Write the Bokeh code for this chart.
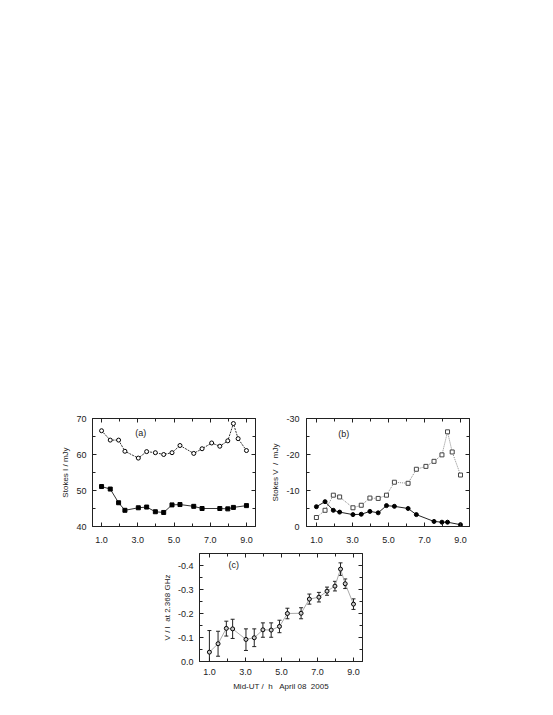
from bokeh.plotting import figure
from bokeh.models import (Range1d, LinearAxis, FixedTicker, CustomJSTickFormatter,
                          Label, Whisker, TeeHead, ColumnDataSource, Spacer)
from bokeh.layouts import column, row
from bokeh.embed import file_html
from bokeh.resources import INLINE

# ---------------- data ----------------
t_all = [1.0, 1.48, 1.94, 2.29, 3.03, 3.49, 3.97, 4.43, 4.89, 5.33, 6.09, 6.55,
         7.08, 7.53, 7.97, 8.28, 8.54, 9.0]
t_sub = [1.0, 1.48, 1.94, 2.29, 3.03, 3.49, 3.97, 4.43, 4.89, 5.33, 6.09, 6.55,
         7.53, 7.97, 8.28, 9.0]

# (a) Stokes I
stokes_i_open = [66.6, 64.0, 64.0, 60.9, 59.0, 60.8, 60.5, 60.0, 60.5, 62.5, 60.3, 61.6,
                 63.2, 62.3, 63.8, 68.6, 64.4, 61.1]
stokes_i_filled = [51.1, 50.4, 46.6, 44.5, 45.2, 45.4, 44.1, 43.9, 46.0, 46.1, 45.6, 45.0,
                   45.0, 44.9, 45.3, 45.8]

# (b) Stokes V
stokes_v_open = [-2.5, -4.5, -8.7, -8.2, -5.2, -5.9, -7.9, -7.8, -8.7, -12.3, -12.0, -15.9,
                 -16.7, -18.1, -19.9, -26.3, -20.7, -14.3]
stokes_v_filled = [-5.5, -6.9, -4.5, -4.0, -3.3, -3.4, -4.2, -3.8, -5.8, -5.6, -5.0, -3.3,
                   -1.4, -1.2, -1.2, -0.5]

# (c) V / I
v_over_i = [-0.039, -0.074, -0.138, -0.136, -0.092, -0.099, -0.132, -0.131, -0.146, -0.200,
            -0.201, -0.260, -0.268, -0.293, -0.314, -0.385, -0.324, -0.239]
v_over_i_hi = [-0.129, -0.126, -0.168, -0.176, -0.136, -0.136, -0.161, -0.161, -0.172, -0.222,
               -0.224, -0.281, -0.288, -0.310, -0.334, -0.411, -0.344, -0.261]
v_over_i_lo = [0.0, -0.022, -0.106, -0.096, -0.046, -0.062, -0.101, -0.101, -0.120, -0.178,
               -0.178, -0.239, -0.248, -0.276, -0.294, -0.359, -0.304, -0.217]

x_ticks = [1, 3, 5, 7, 9]
x_minor = [2, 4, 6, 8]

NB = "\u00a0"
FONT = "Liberation Sans"
INK = "#222222"
FW, FH = 163, 108


def style_axis(ax, ticks, minor, digits=None, standoff=5):
    ax.ticker = FixedTicker(ticks=ticks, minor_ticks=minor)
    ax.major_tick_in = 4
    ax.major_tick_out = 0
    ax.minor_tick_in = 3
    ax.minor_tick_out = 0
    ax.major_tick_line_color = INK
    ax.minor_tick_line_color = INK
    ax.axis_line_color = INK
    if digits is None:
        ax.formatter = CustomJSTickFormatter(code="return '';")
        ax.major_label_text_font_size = "0px"
        ax.major_label_standoff = 0
    else:
        ax.formatter = CustomJSTickFormatter(code="return tick.toFixed(%d);" % digits)
        ax.major_label_text_font = FONT
        ax.major_label_text_font_size = "9px"
        ax.major_label_text_color = INK
        ax.major_label_standoff = standoff


def label_axis(ax, text, standoff):
    ax.axis_label = text
    ax.axis_label_text_font = FONT
    ax.axis_label_text_font_size = "8px"
    ax.axis_label_text_font_style = "normal"
    ax.axis_label_text_color = INK
    ax.axis_label_standoff = standoff


def make_fig(xr, yr, bl, br, bt, bb, yticks, yminor, ydigits, ylabel, xlabel=None,
             ystand=5, xstand=9):
    p = figure(width=bl + FW + br, height=bt + FH + bb,
               x_range=Range1d(*xr), y_range=Range1d(*yr),
               output_backend="svg", toolbar_location=None,
               min_border_left=bl, min_border_right=br,
               min_border_top=bt, min_border_bottom=bb)
    p.xgrid.visible = False
    p.ygrid.visible = False
    p.outline_line_color = INK
    p.outline_line_width = 1
    p.background_fill_color = "white"
    p.border_fill_color = "white"
    bottom = p.below[0]
    left = p.left[0]
    style_axis(bottom, x_ticks, x_minor, 1, xstand)
    style_axis(left, yticks, yminor, ydigits, ystand)
    label_axis(left, ylabel, 3)
    if xlabel:
        label_axis(bottom, xlabel, 4)
    top = LinearAxis()
    style_axis(top, x_ticks, x_minor, None)
    p.add_layout(top, "above")
    right = LinearAxis()
    style_axis(right, yticks, yminor, None)
    p.add_layout(right, "right")
    return p


def panel_label(p, x, y, txt):
    p.add_layout(Label(x=x, y=y, text=txt, text_align="center", text_baseline="middle",
                       text_font=FONT, text_font_size="9px", text_color=INK))


MS = 4

# ---------------- panel (a) ----------------
pa = make_fig((0.5, 9.5), (40, 70), 92, 10, 10, 27,
              [40, 50, 60, 70], [45, 55, 65], 0, "Stokes I / mJy", ystand=6, xstand=10)
pa.line(t_all, stokes_i_open, line_color="#333333", line_width=1, line_dash="2 1")
pa.line(t_sub, stokes_i_filled, line_color="#333333", line_width=1)
pa.scatter(t_all, stokes_i_open, marker="circle", size=MS, fill_color="white",
           line_color="black", line_width=1)
pa.scatter(t_sub, stokes_i_filled, marker="square", size=MS, fill_color="black",
           line_color="black")
panel_label(pa, 3.17, 66.1, "(a)")

# ---------------- panel (b) ----------------
pb = make_fig((0.45, 9.5), (0, -30), 41, 20, 10, 27,
              [0, -10, -20, -30], [-5, -15, -25], 0,
              "Stokes V " + NB + "/ " + NB + "mJy", ystand=7, xstand=10)
pb.line(t_all, stokes_v_open, line_color="#888888", line_width=1, line_dash="1 1")
pb.line(t_sub, stokes_v_filled, line_color="#222222", line_width=1)
pb.scatter(t_all, stokes_v_open, marker="square", size=MS, fill_color="white",
           line_color="#444444", line_width=1)
pb.scatter(t_sub, stokes_v_filled, marker="circle", size=MS, fill_color="black",
           line_color="black")
panel_label(pb, 2.52, -25.8, "(b)")

# ---------------- panel (c) ----------------
pc = make_fig((0.45, 9.5), (0, -0.45), 60, 20, 0, 40,
              [0, -0.1, -0.2, -0.3, -0.4], [-0.05, -0.15, -0.25, -0.35], 1,
              "V / I " + NB + "at 2.368 GHz",
              xlabel="Mid-UT / " + NB + "h " + NB + NB + "April 08 " + NB + "2005",
              ystand=6, xstand=7)
src_c = ColumnDataSource(dict(t=t_all, v=v_over_i, hi=v_over_i_hi, lo=v_over_i_lo))
pc.line("t", "v", source=src_c, line_color="#aaaaaa", line_width=1)
pc.add_layout(Whisker(source=src_c, base="t", upper="hi", lower="lo", dimension="height",
                      line_color="#222222", line_width=1,
                      upper_head=TeeHead(size=4, line_color="#222222", line_width=1),
                      lower_head=TeeHead(size=4, line_color="#222222", line_width=1)))
pc.scatter("t", "v", source=src_c, marker="circle", size=MS, fill_color="#cccccc",
           line_color="black", line_width=1)
panel_label(pc, 2.35, -0.404, "(c)")

layout = column(
    Spacer(width=10, height=408),
    row(pa, pb),
    row(Spacer(width=139, height=10), pc),
)

open("out.html", "w").write(file_html(layout, INLINE))
